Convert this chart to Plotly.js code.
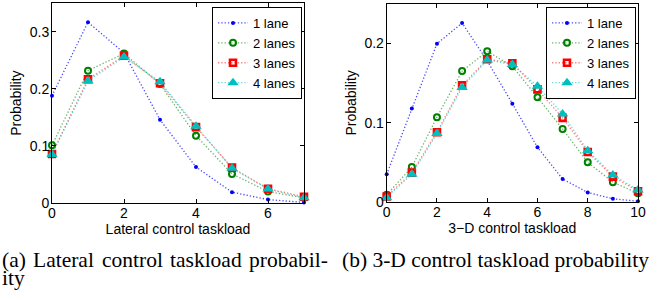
<!DOCTYPE html>
<html>
<head>
<meta charset="utf-8">
<script src="https://cdn.plot.ly/plotly-3.0.1.min.js"></script>
<style>html,body{margin:0;padding:0;background:#fff;}#chart{width:657px;height:300px;}</style>
</head>
<body>
<div id="chart"></div>
<script>
// Left panel: lateral control taskload
const latX = [0, 1, 2, 3, 4, 5, 6, 7];
const lat1 = [0.188, 0.317, 0.263, 0.146, 0.063, 0.019, 0.006, 0.001];
const lat2 = [0.101, 0.232, 0.262, 0.2085, 0.118, 0.051, 0.020, 0.009];
const lat3 = [0.086, 0.217, 0.258, 0.210, 0.133, 0.062, 0.025, 0.011];
const lat4 = [0.085, 0.214, 0.256, 0.2125, 0.1345, 0.061, 0.0245, 0.009];

// Right panel: 3-D control taskload
const tdX = [0, 1, 2, 3, 4, 5, 6, 7, 8, 9, 10];
const td1 = [0.035, 0.118, 0.1996, 0.2256, 0.178, 0.124, 0.069, 0.029, 0.012, 0.004, 0.001];
const td2 = [0.009, 0.044, 0.107, 0.165, 0.190, 0.171, 0.132, 0.092, 0.050, 0.025, 0.011];
const td3 = [0.007, 0.037, 0.088, 0.147, 0.180, 0.175, 0.142, 0.106, 0.063, 0.032, 0.0135];
const td4 = [0.0055, 0.035, 0.0865, 0.1445, 0.179, 0.1735, 0.146, 0.111, 0.0647, 0.034, 0.015];

const seriesNames = ['1 lane', '2 lanes', '3 lanes', '4 lanes'];
const latTickVals = [0, 2, 4, 6];
const tdTickVals = [0, 2, 4, 6, 8, 10];
const latYTicks = [0, 0.1, 0.2, 0.3];
const tdYTicks = [0, 0.1, 0.2];

const styles = [
  {line: 'rgba(0,0,255,0.7)', marker: {color: '#0000ff', symbol: 'circle', size: 4}},
  {line: 'rgba(0,128,0,0.6)', marker: {color: '#008000', symbol: 'circle-open', size: 6, line: {color: '#008000', width: 2}}},
  {line: 'rgba(255,0,0,0.5)', marker: {color: '#ff0000', symbol: 'square-open', size: 6, line: {color: '#ff0000', width: 2.6}}},
  {line: 'rgba(0,191,191,0.6)', marker: {color: '#00bfbf', symbol: 'triangle-up', size: 10}}
];

function mk(x, y, i, xa, ya, leg) {
  return {
    x: x, y: y, name: seriesNames[i], type: 'scatter', mode: 'lines+markers',
    xaxis: xa, yaxis: ya, legend: leg,
    line: {color: styles[i].line, width: 1.3, dash: '1.3px,2px'},
    marker: styles[i].marker, cliponaxis: false
  };
}

const data = [
  mk(latX, lat1, 0, 'x', 'y', 'legend'),
  mk(latX, lat2, 1, 'x', 'y', 'legend'),
  mk(latX, lat3, 2, 'x', 'y', 'legend'),
  mk(latX, lat4, 3, 'x', 'y', 'legend'),
  mk(tdX, td1, 0, 'x2', 'y2', 'legend2'),
  mk(tdX, td2, 1, 'x2', 'y2', 'legend2'),
  mk(tdX, td3, 2, 'x2', 'y2', 'legend2'),
  mk(tdX, td4, 3, 'x2', 'y2', 'legend2')
];

const W = 657, H = 300;
const axFont = {family: 'Liberation Sans, Arial, sans-serif', size: 14, color: '#000'};
function axis(extra) {
  return Object.assign({
    showline: true, linecolor: '#000', linewidth: 1, mirror: 'ticks',
    ticks: 'inside', ticklen: 4, tickcolor: '#000', tickwidth: 1,
    showgrid: false, zeroline: false, tickfont: axFont, fixedrange: true
  }, extra);
}

const legendBase = {
  bgcolor: '#fff', bordercolor: '#000', borderwidth: 1,
  font: {family: 'Liberation Sans, Arial, sans-serif', size: 13, color: '#000'},
  xanchor: 'right', yanchor: 'top', itemwidth: 30, tracegroupgap: 0
};

const capFont = {family: 'Liberation Serif, Times New Roman, serif', size: 21.5, color: '#000'};
function cap(text, px, py) {
  return {text: text, xref: 'paper', yref: 'paper', x: px / W, y: 1 - py / H,
          xanchor: 'left', yanchor: 'middle', showarrow: false, font: capFont};
}

const layout = {
  width: W, height: H,
  margin: {l: 0, r: 0, t: 0, b: 0},
  paper_bgcolor: '#fff', plot_bgcolor: '#fff',
  showlegend: true,
  xaxis: axis({domain: [52 / W, 304 / W], range: [0, 7], tickvals: latTickVals, anchor: 'y',
    ticklabelstandoff: -3,
    title: {text: 'Lateral control taskload', font: axFont, standoff: 0}}),
  yaxis: axis({domain: [1 - 203 / H, 1 - 3.3 / H], range: [0, 0.35], tickvals: latYTicks, anchor: 'x',
    ticklabelstandoff: -1,
    title: {text: 'Probability', font: axFont, standoff: 4}}),
  xaxis2: axis({domain: [386.7 / W, 638 / W], range: [0, 10], tickvals: tdTickVals, anchor: 'y2',
    ticklabelstandoff: -3,
    title: {text: '3\u2212D control taskload', font: axFont, standoff: 0}}),
  yaxis2: axis({domain: [1 - 202 / H, 1 - 3.7 / H], range: [0, 0.25], tickvals: tdYTicks, anchor: 'x2',
    ticklabelstandoff: -1,
    title: {text: 'Probability', font: axFont, standoff: 4}}),
  legend: Object.assign({x: 302 / W, y: 1 - 7 / H}, legendBase),
  legend2: Object.assign({x: 636 / W, y: 1 - 7 / H}, legendBase),
  annotations: [
    cap('(a)', 0, 260),
    cap('Lateral', 31.3, 260),
    cap('control', 99.6, 260),
    cap('taskload', 168, 260),
    cap('probabil-', 247.2, 260),
    cap('ity', 0, 278),
    cap('(b) 3-D control taskload probability', 340, 260)
  ]
};

Plotly.newPlot('chart', data, layout, {displayModeBar: false, staticPlot: true});
</script>
</body>
</html>
